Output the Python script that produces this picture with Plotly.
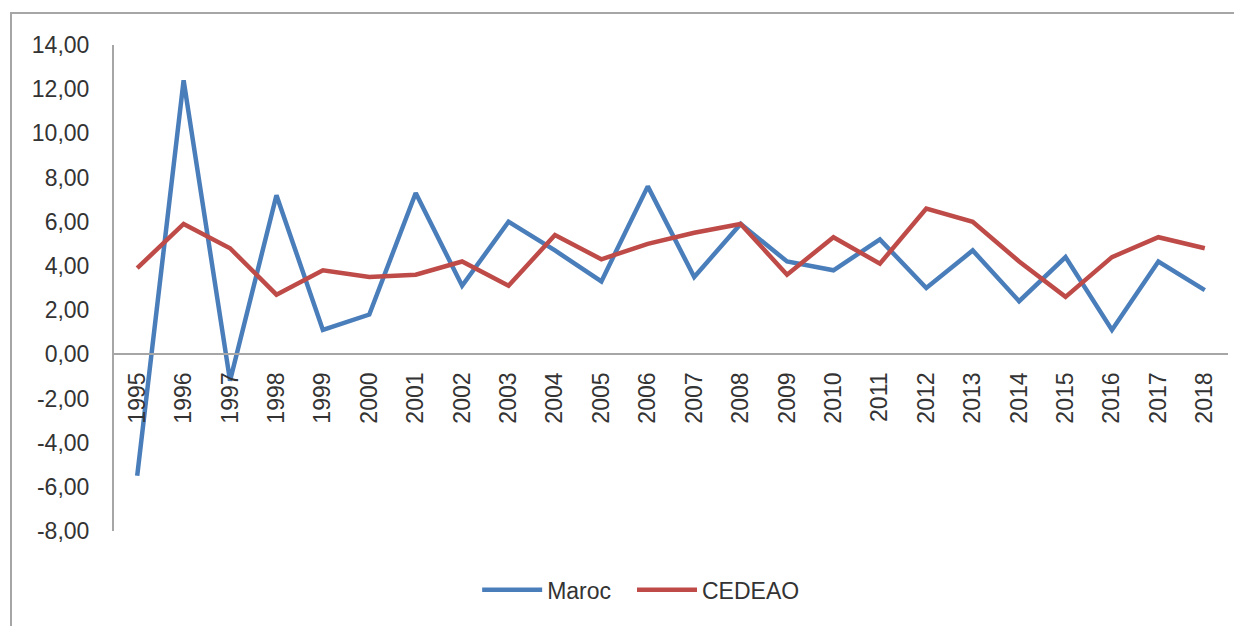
import plotly.graph_objects as go

# Données (taux de croissance, %)
annees = [str(a) for a in range(1995, 2019)]
maroc = [-5.5, 12.4, -1.2, 7.2, 1.1, 1.8, 7.3, 3.1, 6.0, 4.7, 3.3, 7.6,
         3.5, 5.9, 4.2, 3.8, 5.2, 3.0, 4.7, 2.4, 4.4, 1.1, 4.2, 2.9]
cedeao = [3.9, 5.9, 4.8, 2.7, 3.8, 3.5, 3.6, 4.2, 3.1, 5.4, 4.3, 5.0,
          5.5, 5.9, 3.6, 5.3, 4.1, 6.6, 6.0, 4.2, 2.6, 4.4, 5.3, 4.8]
y_ticks = [-8, -6, -4, -2, 0, 2, 4, 6, 8, 10, 12, 14]
y_labels = ["-8,00", "-6,00", "-4,00", "-2,00", "0,00", "2,00", "4,00",
            "6,00", "8,00", "10,00", "12,00", "14,00"]

BLEU = "#4a7ebb"
ROUGE = "#be4b48"
GRIS_TEXTE = "#333333"
GRIS_AXE = "#a6a6a6"
Y_MIN, Y_MAX = -8, 14

# la page html ajoute ~8 px de marge : on compense
L, T = 106, 37
PW, PH = 1114, 486

fig = go.Figure()
fig.add_trace(go.Scatter(x=annees, y=maroc, name="Maroc", mode="lines",
                         line=dict(color=BLEU, width=4.5), legend="legend"))
fig.add_trace(go.Scatter(x=annees, y=cedeao, name="CEDEAO", mode="lines",
                         line=dict(color=ROUGE, width=4.5), legend="legend2"))

# une légende par série pour placer chaque entrée comme dans Excel
leg_style = dict(orientation="h", xanchor="left", y=-0.121, yanchor="middle",
                 itemwidth=60, font=dict(size=23, color=GRIS_TEXTE))

fig.update_layout(
    width=1242, height=626,
    margin=dict(l=L, r=1242 - L - PW, t=T, b=626 - T - PH),
    plot_bgcolor="white", paper_bgcolor="white",
    font=dict(family="Liberation Sans, Arial, sans-serif", size=23, color=GRIS_TEXTE),
    showlegend=True,
    legend=dict(x=0.326, **leg_style),
    legend2=dict(x=0.465, **leg_style),
)

# axe X au niveau de 0 (comme dans Excel)
fig.update_xaxes(
    type="category", range=[-0.5, len(annees) - 0.5],
    anchor="free", position=(0 - Y_MIN) / (Y_MAX - Y_MIN),
    showline=True, linecolor=GRIS_AXE, linewidth=2,
    showgrid=False, zeroline=False, tickangle=-90,
    ticks="outside", ticklen=8, tickcolor="rgba(0,0,0,0)",
    tickfont=dict(size=23, color=GRIS_TEXTE),
)
fig.update_yaxes(
    range=[Y_MIN, Y_MAX], tickvals=y_ticks, ticktext=y_labels,
    showline=True, linecolor=GRIS_AXE, linewidth=2,
    showgrid=False, zeroline=False,
    ticks="outside", ticklen=18, tickcolor="rgba(0,0,0,0)",
    tickfont=dict(size=23, color=GRIS_TEXTE),
)

# cadre gris du graphique
fig.add_shape(type="rect", xref="paper", yref="paper",
              x0=(11 - 114) / PW, x1=(1250 - 114) / PW,
              y0=(531 - 640) / PH, y1=(531 - 13) / PH,
              line=dict(color=GRIS_AXE, width=2), layer="below")

fig.write_html("out.html")
